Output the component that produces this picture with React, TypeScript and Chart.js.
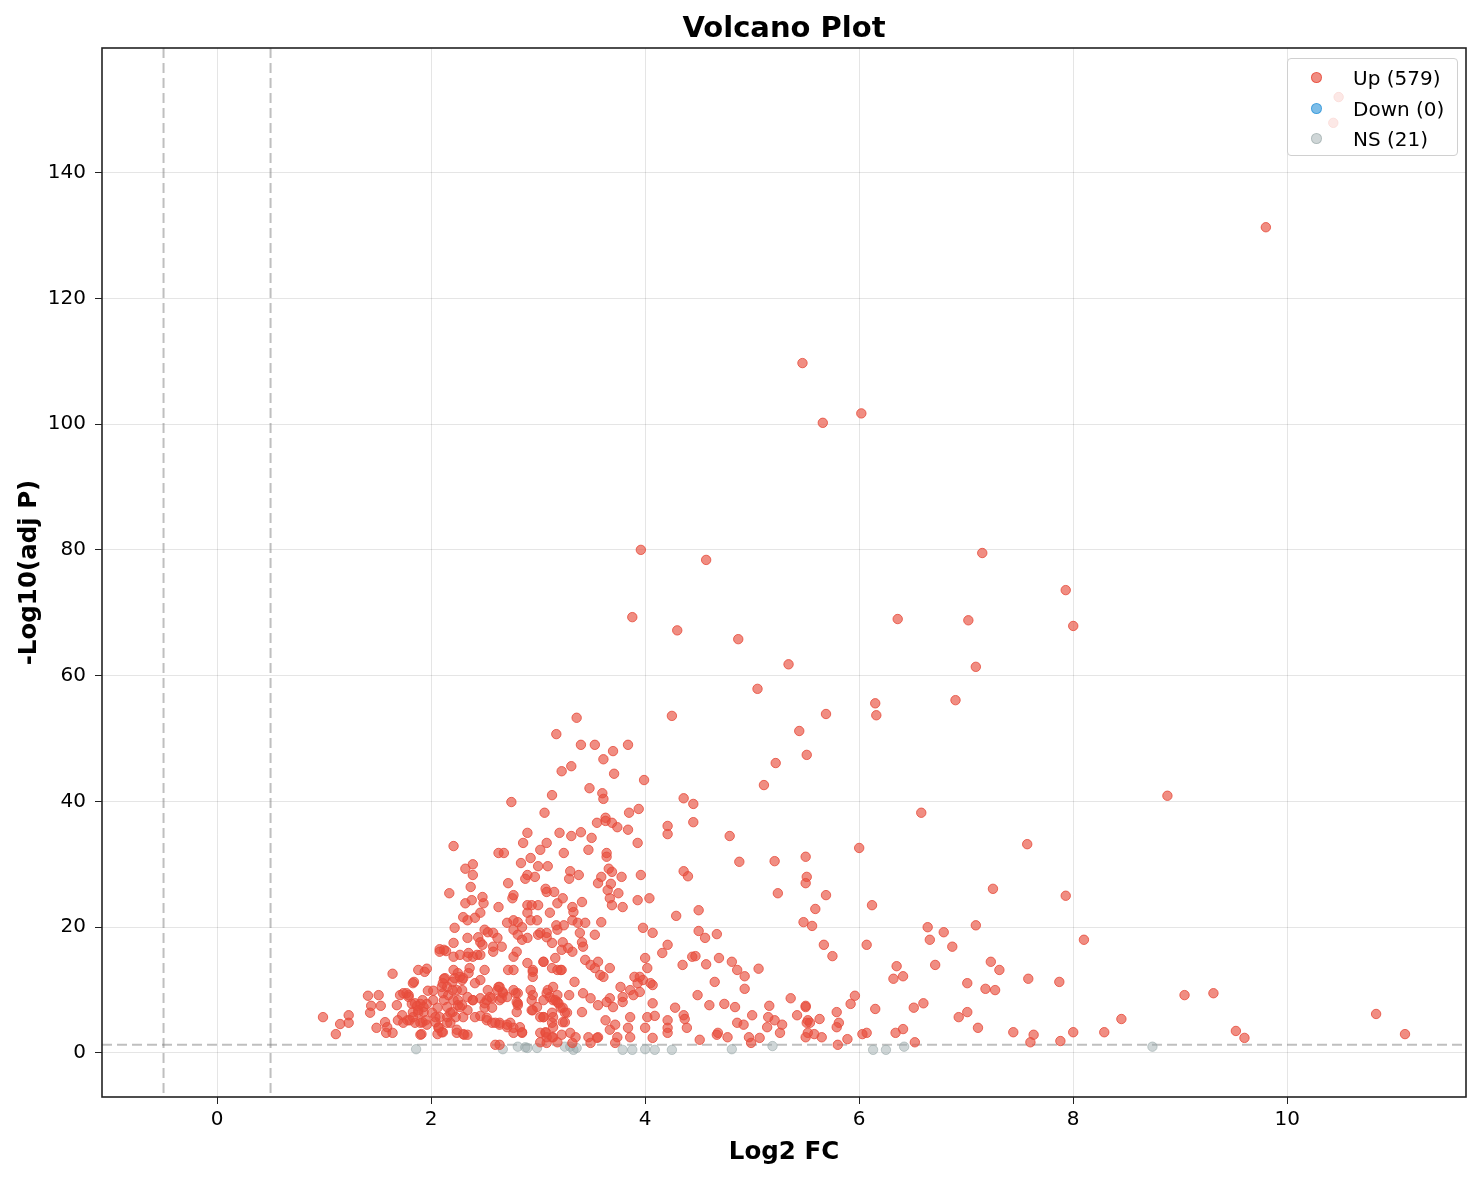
import { useEffect, useRef } from "react"
import { Chart, registerables } from "chart.js"

Chart.register(...registerables)

// [log2 fold change, -log10 adjusted p]
const upPoints: [number, number][] = [
  [10.48, 152.0], [10.43, 147.9], [9.8, 131.3], [5.47, 109.7], [6.02, 101.7], [5.66, 100.2],
  [3.96, 80.0], [7.15, 79.5], [4.57, 78.4], [7.93, 73.6], [3.88, 69.3], [6.36, 69.0], [7.02, 68.8],
  [8.0, 67.9], [4.3, 67.2], [4.87, 65.8], [5.34, 61.8], [7.09, 61.4], [5.05, 57.9], [6.9, 56.1],
  [6.15, 55.6], [6.16, 53.7], [5.69, 53.9], [4.25, 53.6], [3.36, 53.3], [5.44, 51.2], [3.17, 50.7],
  [3.4, 49.0], [3.53, 49.0], [3.84, 49.0], [5.51, 47.4], [3.7, 48.0], [3.61, 46.7], [5.22, 46.1],
  [3.22, 44.8], [3.31, 45.6], [3.71, 44.4], [3.99, 43.4], [5.11, 42.6], [3.48, 42.1], [3.6, 41.3],
  [3.61, 40.4], [3.13, 41.0], [8.88, 40.9], [4.36, 40.5], [4.45, 39.6], [2.75, 39.9], [3.94, 38.8],
  [3.06, 38.2], [3.85, 38.2], [6.58, 38.2], [3.63, 37.4], [3.63, 36.9], [4.45, 36.7], [3.74, 35.9],
  [3.55, 36.6], [3.69, 36.6], [4.21, 36.1], [3.84, 35.5], [3.4, 35.1], [4.21, 34.8], [3.2, 35.0],
  [2.9, 35.0], [3.5, 34.2], [3.31, 34.5], [4.79, 34.5], [2.86, 33.4], [3.08, 33.4], [3.93, 33.4],
  [7.57, 33.2], [2.21, 32.9], [6.0, 32.6], [5.5, 31.2],
  [2.63, 31.8], [2.68, 31.8], [3.02, 32.3], [3.24, 31.8], [3.47, 32.3], [3.64, 31.8], [3.64, 31.2],
  [2.93, 31.0], [2.84, 30.2], [3.0, 29.7], [3.09, 29.7], [2.32, 29.3], [2.39, 30.0], [2.39, 28.3],
  [3.3, 28.9], [3.38, 28.3], [3.29, 27.7], [3.66, 29.3], [3.69, 28.8], [3.78, 28.0], [3.96, 28.3],
  [4.36, 28.9], [4.4, 28.1], [4.88, 30.4], [5.21, 30.5], [2.9, 28.3], [2.88, 27.7], [2.97, 28.0],
  [3.59, 28.0], [3.56, 27.0], [2.72, 27.0], [2.37, 26.4], [3.68, 26.9], [3.07, 26.1], [5.51, 28.0],
  [5.5, 27.0], [7.25, 26.1], [3.65, 25.9],
  [2.17, 25.4], [5.24, 25.4], [5.69, 25.1], [7.93, 25.0], [3.15, 25.6], [3.08, 25.6], [2.48, 24.8],
  [2.38, 24.3], [2.76, 24.6], [2.77, 25.1], [3.23, 24.6], [3.41, 24.0], [3.67, 24.6], [3.75, 25.4],
  [3.93, 24.3], [4.04, 24.6], [2.49, 23.8], [2.32, 23.8], [2.63, 23.2], [2.9, 23.5], [2.94, 23.5],
  [3.0, 23.5], [3.18, 23.8], [3.32, 23.2], [3.69, 23.5], [3.79, 23.2], [6.12, 23.5], [5.59, 22.9],
  [4.5, 22.7], [2.46, 22.3], [3.11, 22.3], [3.33, 22.4], [2.9, 22.3], [4.29, 21.8], [2.3, 21.6],
  [2.41, 21.5], [2.34, 21.1], [2.93, 21.1], [2.99, 21.1], [2.77, 21.1], [3.32, 21.1], [2.81, 20.8],
  [2.71, 20.7], [3.37, 20.7], [3.44, 20.7], [3.59, 20.8], [5.48, 20.8], [3.24, 20.3], [3.17, 20.3],
  [5.56, 20.2], [7.09, 20.3], [6.64, 20.0], [2.22, 19.9], [2.85, 20.0], [3.98, 19.9], [2.5, 19.6],
  [2.77, 19.6], [3.18, 19.6], [4.5, 19.4], [6.79, 19.2], [2.53, 19.2], [2.58, 19.1], [3.02, 19.1],
  [3.08, 19.1], [3.39, 19.1], [4.07, 19.1], [4.67, 18.9], [2.81, 18.8], [3.0, 18.8], [3.53, 18.8],
  [2.34, 18.3], [2.44, 18.4], [2.62, 18.3], [2.9, 18.3], [3.08, 18.4], [4.56, 18.3], [2.85, 18.0],
  [6.66, 18.0], [8.1, 18.0],
  [2.46, 17.6], [2.21, 17.5], [3.13, 17.5], [3.41, 17.6], [3.23, 17.6], [2.48, 17.2], [4.21, 17.2],
  [5.67, 17.2], [6.07, 17.2], [2.58, 16.9], [2.66, 16.9], [3.42, 16.9], [6.87, 16.9], [3.28, 16.7],
  [2.08, 16.5], [2.12, 16.4], [3.22, 16.4], [2.14, 16.2], [3.32, 16.1], [2.35, 15.9], [4.16, 15.9],
  [2.43, 15.6], [2.46, 15.6], [5.75, 15.4], [4.47, 15.4], [2.21, 15.3], [2.39, 15.3], [4.44, 15.3],
  [3.16, 15.1], [4.0, 15.1], [4.69, 15.1], [3.44, 14.8], [3.05, 14.5], [3.56, 14.5], [4.81, 14.5],
  [7.23, 14.5], [4.57, 14.1], [3.49, 14.0], [4.35, 14.0], [6.71, 14.0], [6.35, 13.8],
  [2.36, 13.5], [3.13, 13.5], [3.53, 13.5], [3.67, 13.5], [4.02, 13.5], [1.96, 13.4], [5.06, 13.4],
  [1.88, 13.2], [2.21, 13.2], [2.5, 13.2], [2.72, 13.2], [2.77, 13.2], [2.95, 13.2], [3.18, 13.2],
  [3.21, 13.2], [4.86, 13.2], [7.31, 13.2], [1.94, 12.9], [2.25, 12.7], [1.64, 12.6], [3.58, 12.4],
  [2.27, 12.1], [2.95, 12.1], [3.61, 12.1], [3.9, 12.1], [3.95, 12.1], [4.93, 12.2], [6.41, 12.2],
  [2.3, 11.9], [2.12, 11.8], [6.32, 11.8], [7.58, 11.8], [2.29, 11.6], [2.46, 11.6], [3.98, 11.6],
  [1.84, 11.3], [2.2, 11.3], [3.34, 11.3], [4.65, 11.3], [7.87, 11.3], [2.41, 11.1], [3.93, 11.1],
  [4.05, 11.1], [7.01, 11.1], [4.07, 10.8], [2.1, 10.5], [2.15, 10.5], [2.64, 10.5], [3.14, 10.5],
  [3.77, 10.5], [4.93, 10.2], [7.18, 10.2], [1.97, 9.9], [2.02, 9.9], [2.24, 10.0], [2.29, 10.0],
  [2.53, 10.0], [2.62, 10.0], [2.77, 10.0], [2.93, 10.0], [3.09, 10.0], [3.86, 10.0], [7.27, 10.0],
  [3.95, 9.7], [9.31, 9.5], [1.77, 9.5], [2.67, 9.5], [2.81, 9.5], [3.42, 9.5], [1.51, 9.2],
  [1.71, 9.2], [1.79, 9.2], [2.16, 9.2], [2.95, 9.2], [3.18, 9.2], [3.29, 9.2], [3.89, 9.2],
  [4.49, 9.2], [9.04, 9.2], [1.41, 9.1], [5.96, 9.1],
  [2.34, 8.9], [2.71, 8.9], [3.79, 8.9], [3.11, 8.9], [2.46, 8.7], [2.66, 8.7], [3.49, 8.7],
  [3.67, 8.7], [5.36, 8.7], [2.57, 8.7], [2.12, 8.4], [2.21, 8.4], [2.39, 8.4], [2.52, 8.4],
  [2.94, 8.4], [3.16, 8.4], [2.8, 8.1], [3.18, 8.1], [3.64, 8.1], [3.79, 8.1], [4.07, 7.9],
  [6.6, 7.9], [1.82, 7.8], [1.9, 7.8], [1.96, 7.8], [4.74, 7.8], [5.92, 7.8], [1.68, 7.6],
  [2.25, 7.6], [2.81, 7.6], [3.56, 7.6], [4.6, 7.6], [1.44, 7.5], [1.53, 7.5], [1.87, 7.5],
  [5.16, 7.5], [5.5, 7.5], [1.93, 7.3], [2.27, 7.3], [2.99, 7.3], [3.7, 7.3], [4.84, 7.3],
  [5.5, 7.3], [2.5, 7.2], [2.57, 7.2], [3.21, 7.2], [4.28, 7.2], [6.51, 7.2], [6.15, 7.0],
  [2.34, 6.8], [2.94, 6.8], [1.43, 6.4], [1.83, 6.5], [1.88, 6.4], [1.93, 6.5], [2.01, 6.4],
  [2.2, 6.5], [2.8, 6.5], [3.25, 6.4], [3.13, 6.4], [3.41, 6.5], [5.79, 6.5], [7.01, 6.5],
  [10.83, 6.2], [1.23, 6.0], [4.36, 6.0], [5.0, 6.0], [5.42, 6.0], [4.09, 5.9], [2.46, 5.9],
  [0.99, 5.7], [2.04, 5.7], [2.15, 5.7], [2.23, 5.7], [2.3, 5.7], [3.02, 5.7], [3.05, 5.7],
  [3.86, 5.7], [4.02, 5.7], [5.15, 5.7], [6.93, 5.7], [4.37, 5.4], [5.63, 5.4], [8.45, 5.4],
  [1.69, 5.2], [1.8, 5.2], [2.52, 5.2], [3.63, 5.2], [4.21, 5.2], [5.21, 5.2], [5.52, 5.2],
  [1.57, 4.9], [1.92, 4.9], [3.25, 4.9], [1.23, 4.8], [1.74, 4.8], [1.85, 4.8], [2.18, 4.8],
  [2.57, 4.8], [2.6, 4.8], [2.74, 4.8], [3.13, 4.8], [4.86, 4.8], [5.51, 4.8], [5.54, 4.8],
  [5.81, 4.8], [1.15, 4.6], [1.96, 4.5], [2.64, 4.5], [3.72, 4.5], [4.92, 4.5], [5.28, 4.5],
  [1.49, 4.0], [1.59, 4.1], [2.07, 4.1], [2.71, 4.1], [2.83, 4.1], [3.14, 4.1], [5.14, 4.1],
  [5.79, 4.1], [3.84, 4.0], [4.0, 4.0], [4.21, 4.0], [4.39, 4.0], [7.11, 4.0], [6.41, 3.8],
  [3.67, 3.7], [8.29, 3.3], [9.52, 3.5], [7.44, 3.3], [8.0, 3.3], [2.1, 3.3], [1.58, 3.2],
  [1.64, 3.2], [2.24, 3.2], [2.77, 3.2], [2.85, 3.2], [3.07, 3.2], [3.3, 3.2], [4.21, 3.2],
  [4.68, 3.2], [5.26, 3.2], [5.52, 3.2], [6.07, 3.2], [6.34, 3.2], [1.11, 3.0], [1.91, 3.0],
  [2.06, 3.0], [2.3, 3.0], [5.58, 3.0], [6.03, 3.0], [11.1, 3.0], [2.34, 2.9], [3.22, 2.9],
  [4.67, 2.9], [7.63, 2.9], [3.08, 2.5], [3.13, 2.5], [3.35, 2.5], [3.47, 2.5], [3.56, 2.5],
  [3.74, 2.5], [3.86, 2.5], [4.77, 2.5], [4.97, 2.5], [5.5, 2.5], [5.65, 2.5], [3.55, 2.4],
  [4.07, 2.4], [5.07, 2.4], [9.6, 2.4], [5.89, 2.2], [4.51, 2.1], [7.88, 1.9], [3.18, 1.7],
  [3.02, 1.7], [6.52, 1.7], [7.6, 1.7], [3.08, 1.6], [3.32, 1.6], [3.49, 1.6], [3.72, 1.6],
  [4.99, 1.6], [2.6, 1.3], [2.64, 1.3], [5.8, 1.3],
  [1.83, 11.1], [1.74, 9.5], [1.79, 8.9], [1.85, 7.9], [1.92, 8.4], [1.88, 6.8], [1.83, 5.7],
  [1.78, 5.2], [1.9, 4.8], [1.95, 5.2], [1.73, 6.0], [1.9, 2.9], [2.02, 8.4], [2.06, 7.2],
  [2.08, 5.7], [2.04, 4.9], [2.07, 4.0], [2.11, 3.3], [2.15, 4.8], [2.18, 6.4], [2.15, 7.3],
  [2.11, 9.5], [2.11, 11.1], [2.13, 11.9], [2.22, 11.9], [2.35, 12.7], [2.2, 10.0], [2.25, 8.4],
  [2.29, 7.6], [2.24, 3.7], [2.31, 2.9], [2.39, 8.4], [2.5, 7.9], [2.55, 8.9], [2.52, 5.6],
  [2.41, 5.7], [2.63, 10.5], [2.67, 9.7], [2.64, 8.4], [2.79, 9.5], [2.81, 7.9], [2.64, 4.8],
  [2.71, 4.5], [2.77, 4.0], [2.85, 3.3], [2.95, 6.8], [3.05, 8.4], [3.08, 9.5], [3.14, 8.4],
  [3.19, 7.9], [3.23, 7.2], [3.27, 6.4], [3.05, 5.7], [3.14, 5.7], [3.23, 4.9], [3.02, 3.2],
  [3.07, 3.3], [3.14, 2.5], [2.08, 16.1], [2.27, 15.6], [2.34, 15.3], [2.58, 16.1], [2.77, 15.3],
  [2.8, 16.1], [2.9, 14.3], [2.95, 12.9], [3.05, 14.5], [3.22, 13.2],
]

const downPoints: [number, number][] = []

const nsPoints: [number, number][] = [
  [1.86, 0.6], [2.67, 0.6], [2.81, 1.0], [2.88, 0.9], [2.9, 0.8], [2.99, 0.8], [3.25, 1.0],
  [3.3, 1.0], [3.33, 0.5], [3.36, 0.8], [3.79, 0.5], [3.88, 0.5], [4.0, 0.6], [4.09, 0.5],
  [4.25, 0.5], [4.81, 0.6], [5.19, 1.1], [6.13, 0.5], [6.25, 0.5], [6.42, 1.0], [8.74, 1.0],
]

const chartTitle = "Volcano Plot"
const seriesLabels = ["Up (579)", "Down (0)", "NS (21)"]
const seriesFill = ["rgba(231,76,60,0.64)", "rgba(52,152,219,0.64)", "rgba(149,165,166,0.45)"]
const seriesEdge = ["rgba(231,76,60,0.82)", "rgba(52,152,219,0.82)", "rgba(149,165,166,0.55)"]

const xTicks = [0, 2, 4, 6, 8, 10]
const yTicks = [0, 20, 40, 60, 80, 100, 120, 140]
const fcCutoffs = [-0.5, 0.5]
const pCutoff = 1.3

const FONT = "'DejaVu Sans', sans-serif"

const guidePlugin = {
  id: "guides",
  beforeDatasetsDraw(chart: any) {
    const { ctx, chartArea, scales } = chart
    ctx.save()
    ctx.beginPath()
    ctx.rect(chartArea.left, chartArea.top, chartArea.width, chartArea.height)
    ctx.clip()
    ctx.strokeStyle = "rgba(128,128,128,0.5)"
    ctx.lineWidth = 2
    ctx.setLineDash([10, 5])
    fcCutoffs.forEach((v) => {
      const px = scales.x.getPixelForValue(v)
      ctx.beginPath()
      ctx.moveTo(px, chartArea.top)
      ctx.lineTo(px, chartArea.bottom)
      ctx.stroke()
    })
    const py = scales.y.getPixelForValue(pCutoff)
    ctx.beginPath()
    ctx.moveTo(chartArea.left, py)
    ctx.lineTo(chartArea.right, py)
    ctx.stroke()
    ctx.restore()
  },
  afterDraw(chart: any) {
    const { ctx, chartArea } = chart
    ctx.save()
    ctx.strokeStyle = "#222"
    ctx.lineWidth = 1.6
    ctx.strokeRect(chartArea.left, chartArea.top, chartArea.width, chartArea.height)
    ctx.restore()
  },
}

const toXY = (pts: [number, number][]) => pts.map(([x, y]) => ({ x, y }))

export default function App() {
  const canvasRef = useRef<HTMLCanvasElement>(null)

  useEffect(() => {
    if (!canvasRef.current) return
    const chart = new Chart(canvasRef.current, {
      type: "scatter",
      data: {
        datasets: [upPoints, downPoints, nsPoints].map((pts, i) => ({
          label: seriesLabels[i],
          data: toXY(pts),
          backgroundColor: seriesFill[i],
          borderColor: seriesEdge[i],
          borderWidth: 1,
          pointRadius: 4.7,
        })),
      },
      options: {
        animation: false,
        responsive: true,
        maintainAspectRatio: false,
        // top padding leaves room for the title, which is centred over the plot area in HTML
        layout: { padding: { left: 0, right: 16, top: 48, bottom: 0 } },
        font: { family: FONT },
        scales: {
          x: {
            type: "linear",
            min: -1.075,
            max: 11.67,
            afterBuildTicks: (scale: any) => {
              scale.ticks = xTicks.map((value) => ({ value }))
            },
            afterFit: (scale: any) => {
              scale.height = 83
            },
            grid: { color: "rgba(0,0,0,0.1)", tickColor: "#222", tickLength: 7, lineWidth: 1 },
            border: { display: false },
            ticks: { color: "#000", font: { family: FONT, size: 20 }, padding: 4, maxRotation: 0 },
            title: {
              display: true,
              text: "Log2 FC",
              color: "#000",
              font: { family: FONT, size: 24.5, weight: "bold" },
              padding: { top: 0, bottom: 13 },
            },
          },
          y: {
            type: "linear",
            min: -7.0,
            max: 159.8,
            afterBuildTicks: (scale: any) => {
              scale.ticks = yTicks.map((value) => ({ value }))
            },
            afterFit: (scale: any) => {
              scale.width = 102
            },
            grid: { color: "rgba(0,0,0,0.1)", tickColor: "#222", tickLength: 7, lineWidth: 1 },
            border: { display: false },
            ticks: { color: "#000", font: { family: FONT, size: 20 }, padding: 9 },
            title: {
              display: true,
              text: "-Log10(adj P)",
              color: "#000",
              font: { family: FONT, size: 24.5, weight: "bold" },
              padding: { top: 15, bottom: 0 },
            },
          },
        },
        plugins: {
          legend: { display: false },
          tooltip: { enabled: false },
          title: { display: false },
        },
      },
      plugins: [guidePlugin],
    })
    return () => chart.destroy()
  }, [])

  return (
    <div style={{ position: "absolute", left: 0, top: 0, width: 1482, height: 1180, background: "#fff" }}>
      <canvas ref={canvasRef}></canvas>
      <div
        style={{
          position: "absolute",
          left: 102,
          top: 9,
          width: 1364,
          textAlign: "center",
          fontFamily: FONT,
          fontSize: 29,
          fontWeight: "bold",
          lineHeight: "36px",
          color: "#000",
        }}
      >
        {chartTitle}
      </div>
      <div
        style={{
          position: "absolute",
          left: 1287,
          top: 58,
          width: 171,
          height: 98,
          boxSizing: "border-box",
          background: "rgba(255,255,255,0.8)",
          border: "1px solid #d0d0d0",
          borderRadius: 4,
          fontFamily: FONT,
          fontSize: 20,
          color: "#000",
        }}
      >
        {seriesLabels.map((label, i) => (
          <div
            key={label}
            style={{ position: "absolute", left: 0, top: 19 + i * 30.5 - 12, height: 24, width: "100%" }}
          >
            <span
              style={{
                position: "absolute",
                left: 23,
                top: 6,
                width: 11,
                height: 11,
                boxSizing: "border-box",
                borderRadius: "50%",
                background: seriesFill[i],
                border: `1px solid ${seriesEdge[i]}`,
              }}
            />
            <span style={{ position: "absolute", left: 65, top: 0, whiteSpace: "nowrap", lineHeight: "24px" }}>{label}</span>
          </div>
        ))}
      </div>
    </div>
  )
}
